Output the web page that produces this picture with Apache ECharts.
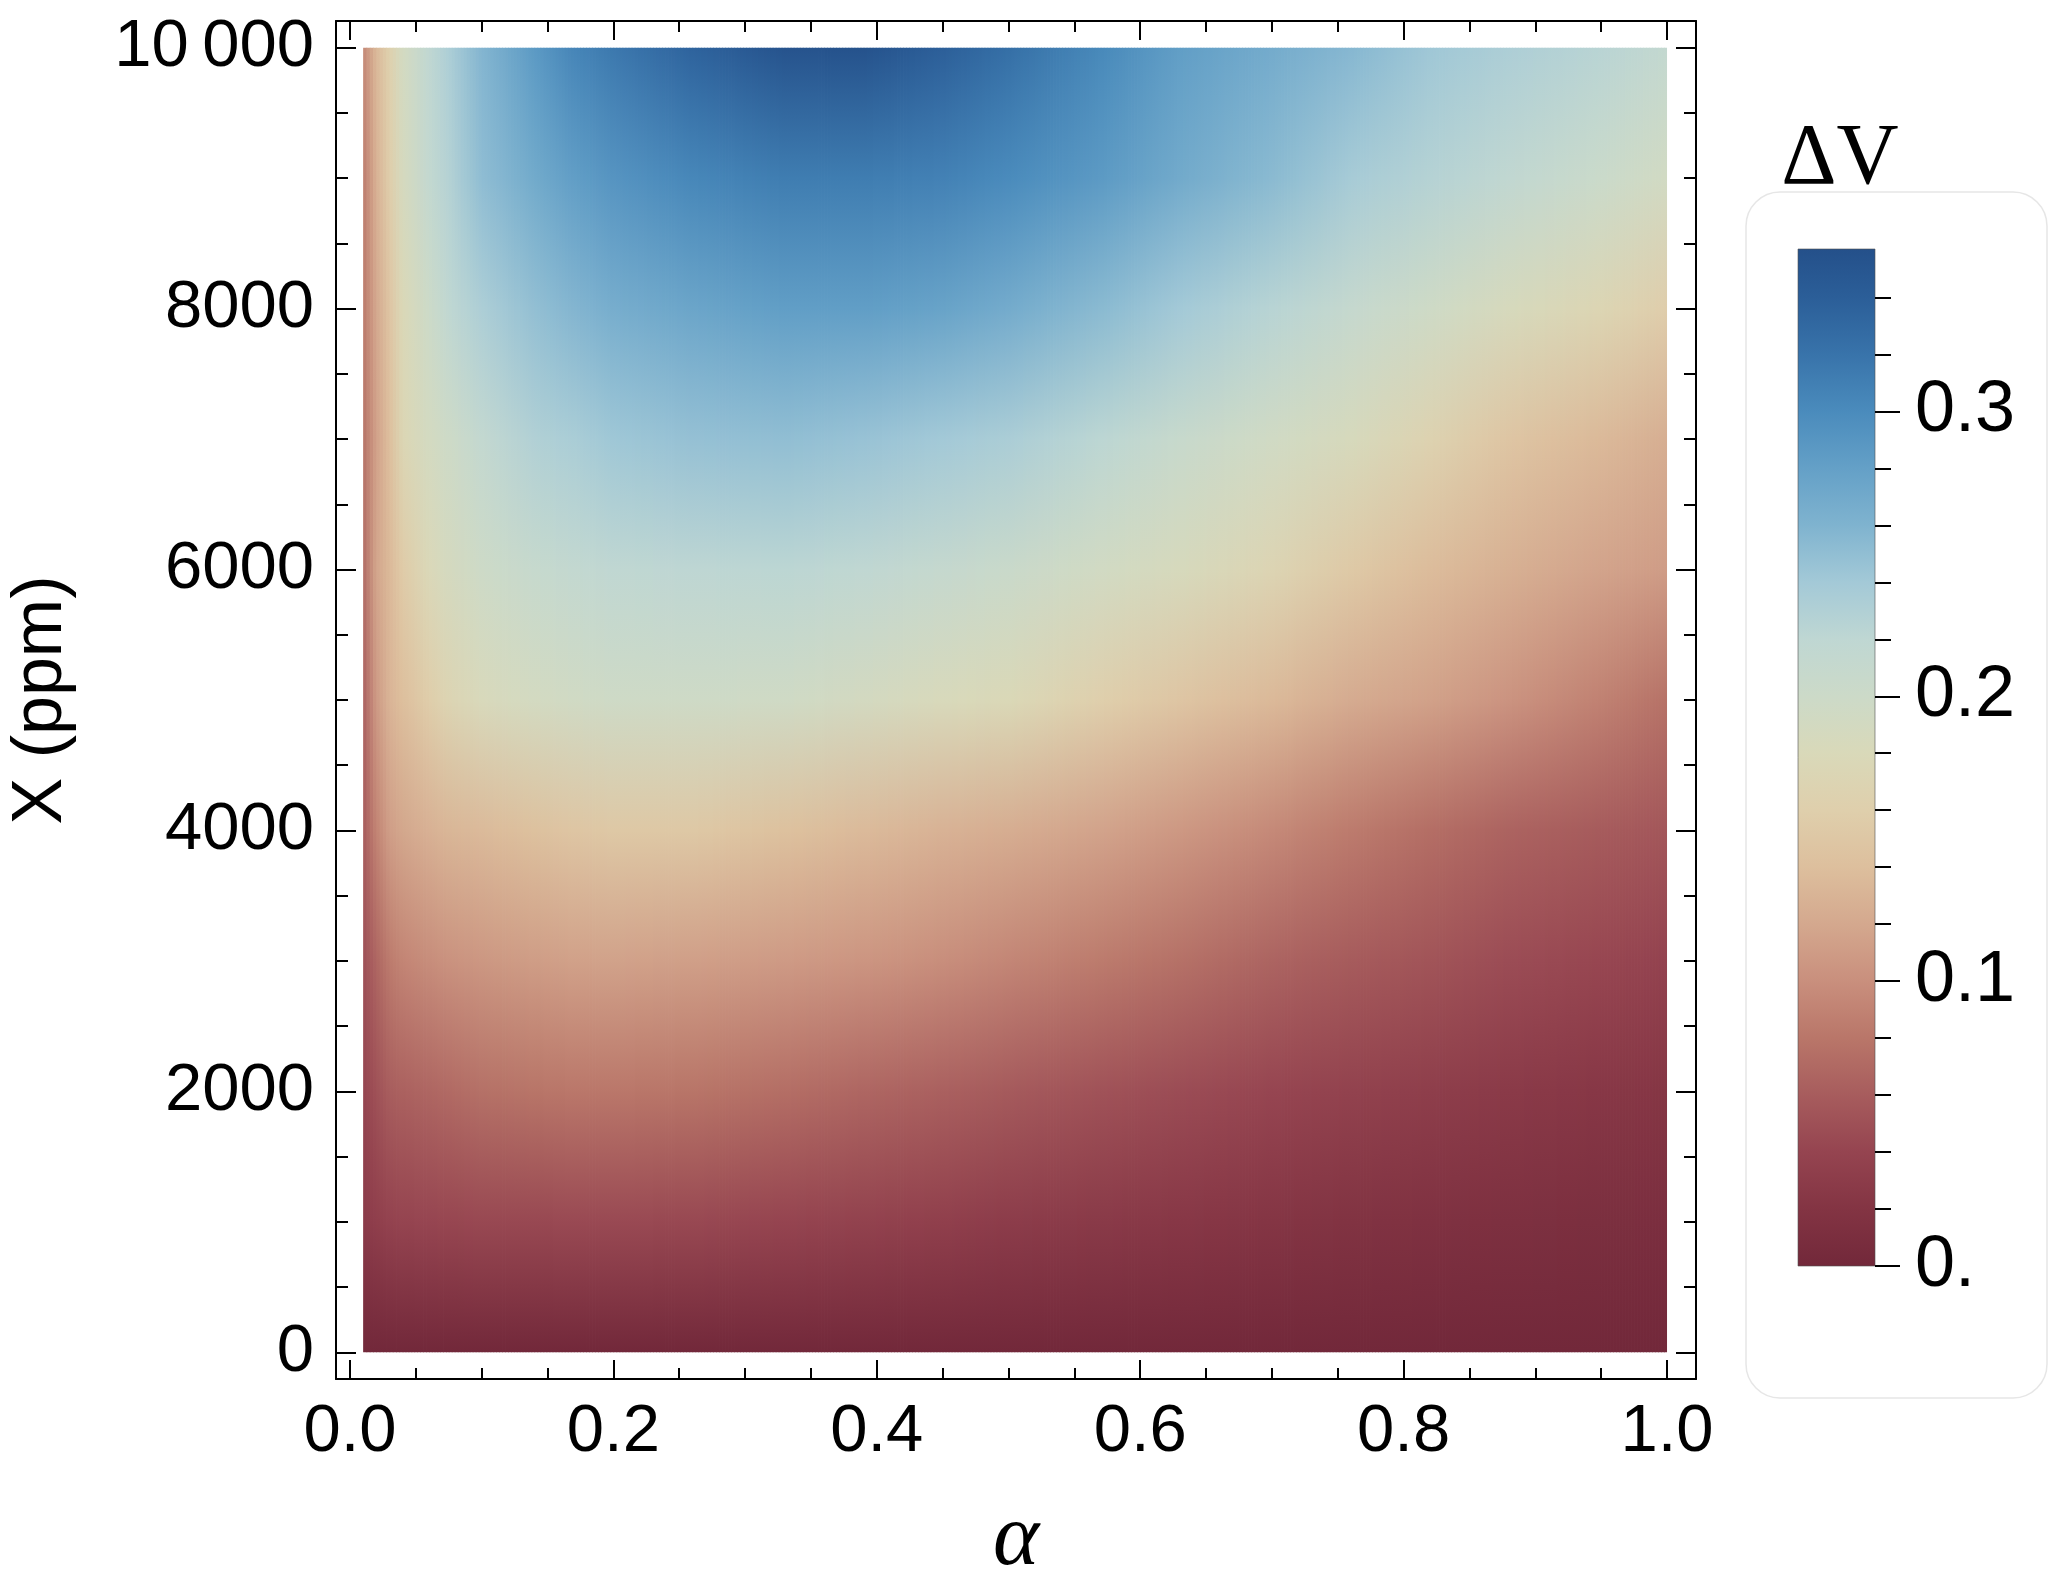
<!DOCTYPE html>
<html><head><meta charset="utf-8">
<script src="https://cdn.jsdelivr.net/npm/echarts@6/dist/echarts.min.js"></script>
<style>html,body{margin:0;padding:0;background:#fff}#c{width:2053px;height:1591px}</style>
</head><body><div id="c"></div>
<script>
// ---- data ----
const alphaNodes = [0.01, 0.02, 0.03, 0.04, 0.06, 0.075, 0.1, 0.14, 0.17, 0.2, 0.26, 0.33, 0.39, 0.45, 0.5, 0.57, 0.63, 0.7, 0.76, 0.82, 0.88, 0.95, 1.0];
const xNodes = [0, 1000, 2000, 3000, 4000, 5000, 6000, 7000, 8000, 9000, 10000];

const dvX0     = [0, 0, 0, 0, 0, 0, 0, 0, 0, 0, 0, 0, 0, 0, 0, 0, 0, 0, 0, 0, 0, 0, 0];
const dvX1000  = [0.028, 0.034, 0.038, 0.040, 0.041, 0.042, 0.043, 0.043, 0.044, 0.044, 0.043, 0.040, 0.037, 0.034, 0.030, 0.027, 0.024, 0.021, 0.018, 0.015, 0.013, 0.011, 0.010];
const dvX2000  = [0.040, 0.051, 0.061, 0.064, 0.068, 0.071, 0.076, 0.079, 0.081, 0.081, 0.079, 0.074, 0.068, 0.063, 0.058, 0.052, 0.047, 0.041, 0.037, 0.032, 0.028, 0.024, 0.022];
const dvX3000  = [0.049, 0.068, 0.084, 0.092, 0.098, 0.102, 0.106, 0.111, 0.114, 0.115, 0.113, 0.109, 0.105, 0.099, 0.093, 0.084, 0.076, 0.066, 0.059, 0.053, 0.047, 0.042, 0.038];
const dvX4000  = [0.059, 0.091, 0.112, 0.119, 0.128, 0.132, 0.136, 0.142, 0.148, 0.151, 0.151, 0.142, 0.136, 0.129, 0.124, 0.116, 0.107, 0.095, 0.084, 0.074, 0.065, 0.059, 0.055];
const dvX5000  = [0.063, 0.109, 0.130, 0.140, 0.157, 0.170, 0.182, 0.190, 0.194, 0.197, 0.197, 0.196, 0.189, 0.182, 0.177, 0.160, 0.148, 0.135, 0.123, 0.114, 0.103, 0.089, 0.077];
const dvX6000  = [0.071, 0.118, 0.135, 0.155, 0.178, 0.188, 0.199, 0.209, 0.214, 0.218, 0.221, 0.222, 0.218, 0.211, 0.204, 0.193, 0.184, 0.170, 0.152, 0.137, 0.127, 0.116, 0.110];
const dvX7000  = [0.077, 0.114, 0.140, 0.173, 0.190, 0.199, 0.214, 0.230, 0.235, 0.242, 0.248, 0.250, 0.246, 0.240, 0.234, 0.222, 0.208, 0.194, 0.184, 0.166, 0.148, 0.135, 0.125];
const dvX8000  = [0.082, 0.120, 0.148, 0.177, 0.200, 0.218, 0.233, 0.249, 0.258, 0.266, 0.275, 0.282, 0.282, 0.277, 0.268, 0.254, 0.240, 0.225, 0.211, 0.197, 0.184, 0.171, 0.158];
const dvX9000  = [0.084, 0.128, 0.158, 0.186, 0.214, 0.227, 0.251, 0.270, 0.282, 0.291, 0.303, 0.312, 0.312, 0.308, 0.300, 0.286, 0.270, 0.254, 0.237, 0.227, 0.217, 0.203, 0.193];
const dvX10000 = [0.094, 0.135, 0.163, 0.190, 0.218, 0.233, 0.258, 0.286, 0.305, 0.316, 0.335, 0.353, 0.355, 0.339, 0.324, 0.302, 0.282, 0.268, 0.256, 0.242, 0.233, 0.224, 0.214];
const dvRows = [dvX0, dvX1000, dvX2000, dvX3000, dvX4000, dvX5000, dvX6000, dvX7000, dvX8000, dvX9000, dvX10000];

const xMajorTicks = [0, 0.2, 0.4, 0.6, 0.8, 1.0];
const xMinorTicks = [0, 0.05, 0.1, 0.15, 0.2, 0.25, 0.3, 0.35, 0.4, 0.45, 0.5, 0.55, 0.6, 0.65, 0.7, 0.75, 0.8, 0.85, 0.9, 0.95, 1.0];
const yMajorTicks = [0, 2000, 4000, 6000, 8000, 10000];
const yMinorTicks = [0, 500, 1000, 1500, 2000, 2500, 3000, 3500, 4000, 4500, 5000, 5500, 6000, 6500, 7000, 7500, 8000, 8500, 9000, 9500, 10000];
const barMajorTicks = [0, 0.1, 0.2, 0.3];
const barMinorTicks = [0, 0.02, 0.04, 0.06, 0.08, 0.1, 0.12, 0.14, 0.16, 0.18, 0.2, 0.22, 0.24, 0.26, 0.28, 0.3, 0.32, 0.34];
const dvMin = 0, dvMax = 0.357;

// colour scale
const cmapStops  = [0, 0.02, 0.04, 0.06, 0.08, 0.10, 0.12, 0.14, 0.16, 0.18, 0.20, 0.22, 0.24, 0.26, 0.28, 0.30, 0.32, 0.34, 0.357];
const cmapColors = ['#72283a','#833443','#954450','#a75c5d','#b97669','#c98f7d','#d4a88e','#ddbf9d','#dfcfac','#d9d9b9','#ccdac8','#bfd7d3','#a3c9d7','#7fb3cf','#64a0c7','#4a8bbc','#3873aa','#2b5e98','#24508a'];

function cmap(v) {
  if (v <= cmapStops[0]) return cmapColors[0];
  for (let i = 1; i < cmapStops.length; i++) {
    if (v <= cmapStops[i]) {
      const t = (v - cmapStops[i - 1]) / (cmapStops[i] - cmapStops[i - 1]);
      return echarts.color.lerp(t, [cmapColors[i - 1], cmapColors[i]]);
    }
  }
  return cmapColors[cmapColors.length - 1];
}

const SANS = "'Liberation Sans', Arial, sans-serif";
const SERIF = "'Liberation Serif', 'Times New Roman', serif";
const LW = 2;

function frameAxis(kind, pos, ticks, len, withLine, label) {
  const ax = {
    gridIndex: 0, type: 'value', position: pos,
    min: kind === 'x' ? -0.0106 : -205,
    max: kind === 'x' ? 1.022 : 10205,
    splitLine: { show: false },
    axisLine: { show: withLine, onZero: false, lineStyle: { color: '#000', width: LW } },
    axisTick: { show: true, inside: true, length: len, customValues: ticks, lineStyle: { color: '#000', width: LW } },
    axisLabel: { show: false },
    silent: true, z: 5
  };
  if (label) ax.axisLabel = label;
  return ax;
}

const xLabel = {
  show: true, customValues: xMajorTicks, margin: 20,
  formatter: v => Number(v).toFixed(1),
  color: '#000', fontSize: 67, fontFamily: SANS
};
const yLabel = {
  show: true, customValues: yMajorTicks, margin: 22,
  formatter: v => (v >= 10000 ? String(v).replace(/\B(?=(\d{3})+(?!\d))/g, '\u2009') : String(v)),
  color: '#000', fontSize: 67, fontFamily: SANS
};

// column colours (vertical gradient stops) for node column i
function columnColors(i) {
  return xNodes.map((x, j) => cmap(dvRows[j][i]));
}

const chart = echarts.init(document.getElementById('c'), null, { renderer: 'canvas' });
chart.setOption({
  animation: false,
  backgroundColor: '#fff',
  grid: [
    { left: 336, top: 21, width: 1360, height: 1358 },
    { left: 1798, top: 249, width: 77, height: 1017 }
  ],
  xAxis: [
    frameAxis('x', 'bottom', xMajorTicks, 19, true, xLabel),
    frameAxis('x', 'bottom', xMinorTicks, 11, false),
    frameAxis('x', 'top', xMajorTicks, 19, true),
    frameAxis('x', 'top', xMinorTicks, 11, false),
    { gridIndex: 1, type: 'value', min: 0, max: 1, show: false }
  ],
  yAxis: [
    frameAxis('y', 'left', yMajorTicks, 20, true, yLabel),
    frameAxis('y', 'left', yMinorTicks, 12, false),
    frameAxis('y', 'right', yMajorTicks, 20, true),
    frameAxis('y', 'right', yMinorTicks, 12, false),
    {
      gridIndex: 1, type: 'value', position: 'right', min: dvMin, max: dvMax,
      splitLine: { show: false },
      axisLine: { show: false, onZero: false },
      axisTick: { show: true, inside: false, length: 25, customValues: barMajorTicks, lineStyle: { color: '#000', width: LW } },
      axisLabel: {
        show: true, customValues: barMajorTicks, margin: 40,
        formatter: v => (v === 0 ? '0.' : String(Number(v).toFixed(1))),
        color: '#000', fontSize: 72, fontFamily: SANS
      },
      z: 5
    },
    {
      gridIndex: 1, type: 'value', position: 'right', min: dvMin, max: dvMax,
      splitLine: { show: false },
      axisLine: { show: false, onZero: false },
      axisTick: { show: true, inside: false, length: 16, customValues: barMinorTicks, lineStyle: { color: '#000', width: LW } },
      axisLabel: { show: false },
      z: 5
    }
  ],
  graphic: [
    { type: 'rect', z: -10, shape: { x: 1746, y: 192, width: 301, height: 1206, r: 34 },
      style: { fill: '#fff', stroke: '#e6e6e6', lineWidth: 1.5 } },
    { type: 'text', z: 10, x: 1840, y: 160,
      style: { text: 'ΔV', font: '86px ' + SERIF, fill: '#000', textAlign: 'center', textVerticalAlign: 'middle' } },
    { type: 'text', z: 10, x: 1016, y: 1541,
      style: { text: 'α', font: 'italic 88px ' + SERIF, fill: '#000', textAlign: 'center', textVerticalAlign: 'middle' } },
    { type: 'text', z: 10, x: 42, y: 700, rotation: Math.PI / 2,
      style: { text: 'X (ppm)', font: '70px ' + SANS, fill: '#000', textAlign: 'center', textVerticalAlign: 'middle' } }
  ],
  series: [
    {
      // density: one cell per pair of neighbouring alpha nodes, shaded between the two node columns
      type: 'custom', xAxisIndex: 0, yAxisIndex: 0, clip: true, silent: true,
      data: alphaNodes.slice(0, -1).map((a, i) => [a, alphaNodes[i + 1], i]),
      renderItem: function (params, api) {
        const a0 = api.value(0), a1 = api.value(1), i = api.value(2);
        const xTop = xNodes[xNodes.length - 1], xBot = xNodes[0];
        const p0 = api.coord([a0, xTop]);
        const p1 = api.coord([a1, xBot]);
        const c0 = columnColors(i), c1 = columnColors(i + 1);
        const w = p1[0] - p0[0];
        const K = Math.max(1, Math.round(w / 3));
        const children = [];
        for (let k = 0; k < K; k++) {
          const t = (k + 0.5) / K;
          const stops = xNodes.map((x, j) => ({
            offset: (xTop - x) / (xTop - xBot),
            color: echarts.color.lerp(t, [c0[j], c1[j]])
          })).reverse();
          const xs = p0[0] + w * k / K;
          const last = (i === alphaNodes.length - 2) && (k === K - 1);
          children.push({
            type: 'rect',
            shape: { x: xs, y: p0[1], width: w / K + (last ? 0 : 0.8), height: p1[1] - p0[1] },
            style: { fill: new echarts.graphic.LinearGradient(0, 0, 0, 1, stops) }
          });
        }
        return { type: 'group', children: children };
      }
    },
    {
      type: 'custom', xAxisIndex: 4, yAxisIndex: 4, silent: true,
      data: [[dvMin, dvMax]],
      renderItem: function (params, api) {
        const p0 = api.coord([0, api.value(1)]);
        const p1 = api.coord([1, api.value(0)]);
        const stops = cmapStops.map((s, k) => ({ offset: 1 - (s - dvMin) / (dvMax - dvMin), color: cmapColors[k] })).reverse();
        return {
          type: 'rect',
          shape: { x: p0[0], y: p0[1], width: p1[0] - p0[0], height: p1[1] - p0[1] },
          style: { fill: new echarts.graphic.LinearGradient(0, 0, 0, 1, stops), stroke: 'rgba(80,80,80,0.6)', lineWidth: 1 }
        };
      }
    }
  ]
});
</script>
</body></html>
